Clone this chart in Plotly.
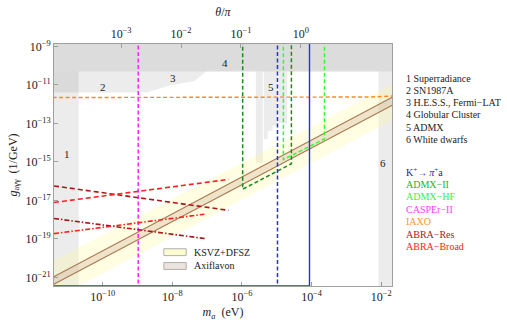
import numpy as np
import plotly.graph_objects as go

# ---------------- axis ranges / ticks (log10 units) ----------------
m_range = [-11.40, -1.69]
g_range = [-21.45, -8.876]
theta_range = [-4.119, 1.519]
x_tick_exp = [-10, -8, -6, -4, -2]
y_tick_exp = [-9, -11, -13, -15, -17, -19, -21]
theta_tick_exp = [-3, -2, -1, 0]

# ---------------- excluded regions (log10 m_a, log10 g) ----------------
globular_m = [-12.0, -1.0, -1.0, -12.0]
globular_g = [-10.31, -10.31, -8.0, -8.0]
superradiance_m = [-12.0, -10.69, -10.69, -12.0]
superradiance_g = [-22.0, -22.0, -10.31, -10.31]
sn_hess_m = [-12.0, -8.74, -8.03, -7.37, -7.03, -12.0]
sn_hess_g = [-11.40, -11.40, -11.01, -10.81, -10.31, -10.31]
admx_a_m = [-5.60, -5.40, -5.40, -5.60]
admx_a_g = [-15.05, -15.05, -10.31, -10.31]
admx_b_m = [-5.37, -5.37, -5.26, -5.26, -5.12, -5.12, -4.98, -4.98]
admx_b_g = [-10.31, -13.81, -13.81, -13.38, -13.38, -13.13, -13.13, -10.31]
admx_c_m = [-4.95, -4.95, -4.70, -4.70]
admx_c_g = [-10.31, -13.0, -13.0, -10.31]
wd_m = [-2.08, -1.0, -1.0, -2.08]
wd_g = [-22.0, -22.0, -10.31, -10.31]

# ---------------- model bands ----------------
band_m = [-12.0, -1.0]
ksvz_upper_g = [-20.68, -10.33]
ksvz_lower_g = [-22.72, -12.17]
axiflavon_upper_g = [-21.545, -10.988]
axiflavon_lower_g = [-21.93, -11.41]

# ---------------- experimental reach ----------------
kpi_dashed_m = [-4.98, -4.98]
kpi_dashed_g = [-22.0, -8.0]
kpi_solid_m = [-12.0, -4.06, -4.06]
kpi_solid_g = [-21.445, -21.445, -8.0]
admx2_m = [-5.98, -5.98, -4.58, -4.58]
admx2_g = [-8.0, -16.42, -15.10, -8.0]
admxhf_m = [-4.81, -4.81, -3.63, -3.63]
admxhf_g = [-8.0, -14.88, -13.81, -8.0]
casper_m = [-8.98, -8.98]
casper_g = [-22.0, -8.0]
iaxo_m = [-12.0, -3.0, -2.3, -1.69, -1.0]
iaxo_g = [-11.66, -11.66, -11.63, -11.58, -11.52]
abra_res_1_m = [-11.40, -6.38]
abra_res_1_g = [-16.25, -17.52]
abra_res_2_m = [-11.40, -7.05]
abra_res_2_g = [-17.94, -18.99]
abra_broad_1_m = [-11.40, -6.38]
abra_broad_1_g = [-17.11, -15.91]
abra_broad_2_m = [-11.40, -7.08]
abra_broad_2_g = [-18.73, -17.72]

# region number labels (log10 m, log10 g)
region_labels = ["1", "2", "3", "4", "5", "6"]
region_label_m = [-11.03, -10.0, -7.97, -6.48, -5.17, -1.94]
region_label_g = [-14.57, -11.10, -10.66, -9.87, -11.10, -15.06]

region_names = ["1 Superradiance", "2 SN1987A", "3 H.E.S.S., Fermi\u2212LAT",
                "4 Globular Cluster", "5 ADMX", "6 White dwarfs"]
exp_names = ["K<sup>+</sup>\u2192\u2009<i>\u03c0</i><sup>+</sup>a", "ADMX\u2212II", "ADMX\u2212HF",
             "CASPEr\u2212II", "IAXO", "ABRA\u2212Res", "ABRA\u2212Broad"]
exp_colors = ["#1c1ca8", "#2ab02a", "#3cf03c", "#ff3cff", "#ff9430", "#a81818", "#ff2020"]

FONT = "Liberation Serif, 'Times New Roman', Times, 'DejaVu Serif', serif"
W, H = 507, 329
L, R, T, B = 52, 115, 37, 38


def P(v):
    return np.power(10.0, np.array(v, dtype=float))


def px(xp):
    return (xp - L) / (W - L - R)


def py(yp):
    return (H - B - yp) / (H - T - B)


fig = go.Figure()

light = "rgba(0,0,0,0.075)"


def region(mv, gv, color):
    fig.add_trace(go.Scatter(x=P(mv), y=P(gv), fill="toself", fillcolor=color,
                             mode="lines", line=dict(width=0), hoverinfo="skip",
                             showlegend=False))


region(globular_m, globular_g, "#dcdcdc")
region(superradiance_m, superradiance_g, light)
region(sn_hess_m, sn_hess_g, light)
region(admx_a_m, admx_a_g, light)
region(admx_b_m, admx_b_g, light)
region(admx_c_m, admx_c_g, light)
region(wd_m, wd_g, light)

# KSVZ+DFSZ band
fig.add_trace(go.Scatter(x=P(band_m + band_m[::-1]), y=P(ksvz_upper_g + ksvz_lower_g[::-1]),
                         fill="toself", fillcolor="rgba(255,248,150,0.28)", mode="lines",
                         line=dict(width=0), hoverinfo="skip", showlegend=False))
# Axiflavon band
fig.add_trace(go.Scatter(x=P(band_m + band_m[::-1]), y=P(axiflavon_upper_g + axiflavon_lower_g[::-1]),
                         fill="toself", fillcolor="rgba(190,150,130,0.25)", mode="lines",
                         line=dict(width=0), hoverinfo="skip", showlegend=False))
for gv in (axiflavon_upper_g, axiflavon_lower_g):
    fig.add_trace(go.Scatter(x=P(band_m), y=P(gv), mode="lines",
                             line=dict(color="#a87850", width=1.1), hoverinfo="skip", showlegend=False))


def line(mv, gv, color, dash="solid", width=1.4):
    fig.add_trace(go.Scatter(x=P(mv), y=P(gv), mode="lines",
                             line=dict(color=color, width=width, dash=dash),
                             hoverinfo="skip", showlegend=False))


dash = "4px,2.5px"
line(iaxo_m, iaxo_g, "#ff8a1c", dash)
line(casper_m, casper_g, "#ff2cff", dash, 1.6)
line(admx2_m, admx2_g, "#1a8a1a", dash, 1.5)
line(admxhf_m, admxhf_g, "#33ff33", dash, 1.5)
line(kpi_dashed_m, kpi_dashed_g, "#2a2aff", dash, 1.5)
line(kpi_solid_m, kpi_solid_g, "#2a2aff", "solid", 1.4)
line(abra_res_1_m, abra_res_1_g, "#a81818", "5px,3px", 1.6)
line(abra_broad_1_m, abra_broad_1_g, "#ff2020", "5px,3px", 1.6)
line(abra_res_2_m, abra_res_2_g, "#a81818", "5px,2px,1.5px,2px", 1.6)
line(abra_broad_2_m, abra_broad_2_g, "#ff2020", "5px,2px,1.5px,2px", 1.6)

# dummy trace for the top axis
fig.add_trace(go.Scatter(x=[1e-2], y=[1e-15], xaxis="x2", mode="markers",
                         marker=dict(opacity=0), hoverinfo="skip", showlegend=False))

annotations = []
for t, mv, gv in zip(region_labels, region_label_m, region_label_g):
    annotations.append(dict(x=mv, y=gv, xref="x", yref="y", text=t, showarrow=False,
                            font=dict(family=FONT, size=11, color="#222")))
for i, t in enumerate(region_names):
    annotations.append(dict(x=px(404), y=py(73 + 12.8 * i), xref="paper", yref="paper",
                            text=t, showarrow=False, xanchor="left", yanchor="middle",
                            font=dict(family=FONT, size=10, color="#222")))
for i, (t, c) in enumerate(zip(exp_names, exp_colors)):
    annotations.append(dict(x=px(404), y=py(171.5 + 13 * i), xref="paper", yref="paper",
                            text=t, showarrow=False, xanchor="left", yanchor="middle",
                            font=dict(family=FONT, size=10, color=c)))
# in-plot legend
legend_items = [("KSVZ+DFSZ", "#fdfbd2"), ("Axiflavon", "#ece3dd")]
shapes = []
for i, (t, c) in enumerate(legend_items):
    yc = 255.5 + 14.5 * i
    shapes.append(dict(type="rect", xref="paper", yref="paper",
                       x0=px(162.5), x1=px(185), y0=py(yc - 3.6), y1=py(yc + 3.6),
                       fillcolor=c, line=dict(color="#b0b0b0", width=1)))
    annotations.append(dict(x=px(191), y=py(yc), xref="paper", yref="paper", text=t,
                            showarrow=False, xanchor="left", yanchor="middle",
                            font=dict(family=FONT, size=10, color="#222")))


def sup(e):
    return "10<sup>\u2212%d</sup>" % (-e) if e < 0 else "10<sup>%d</sup>" % e


axis_common = dict(showgrid=False, zeroline=False, showline=True, linecolor="#a0a0a0",
                   linewidth=1, ticks="inside", ticklen=4, tickcolor="#a0a0a0",
                   tickfont=dict(family=FONT, size=12, color="#222"))

fig.update_layout(
    width=W, height=H, margin=dict(l=L, r=R, t=T, b=B),
    paper_bgcolor="white", plot_bgcolor="white",
    font=dict(family=FONT, size=11, color="#222"),
    xaxis=dict(type="log", range=m_range, tickvals=list(P(x_tick_exp)),
               ticktext=[sup(e) for e in x_tick_exp], mirror=False, layer="below traces",
               title=dict(text="<i>m<sub>a</sub></i>  (eV)", font=dict(family=FONT, size=12, color="#222"),
                          standoff=4),
               **axis_common),
    xaxis2=dict(type="log", range=theta_range, overlaying="x", side="top", anchor="y",
                tickvals=list(P(theta_tick_exp)), ticktext=[sup(e) for e in theta_tick_exp],
                title=dict(text="<i>\u03b8</i>/<i>\u03c0</i>", font=dict(family=FONT, size=12, color="#222"),
                           standoff=6),
                **axis_common),
    yaxis=dict(type="log", range=g_range, tickvals=list(P(y_tick_exp)),
               ticktext=[sup(e) for e in y_tick_exp], mirror=True,
               title=dict(text="<i>g</i><sub>a\u03b3\u03b3</sub>  (1/GeV)",
                          font=dict(family=FONT, size=12, color="#222"), standoff=5),
               **axis_common),
    annotations=annotations,
    shapes=shapes,
)

fig.write_html("out.html", config={"displayModeBar": False},
               post_script="document.body.style.margin='0px';")
